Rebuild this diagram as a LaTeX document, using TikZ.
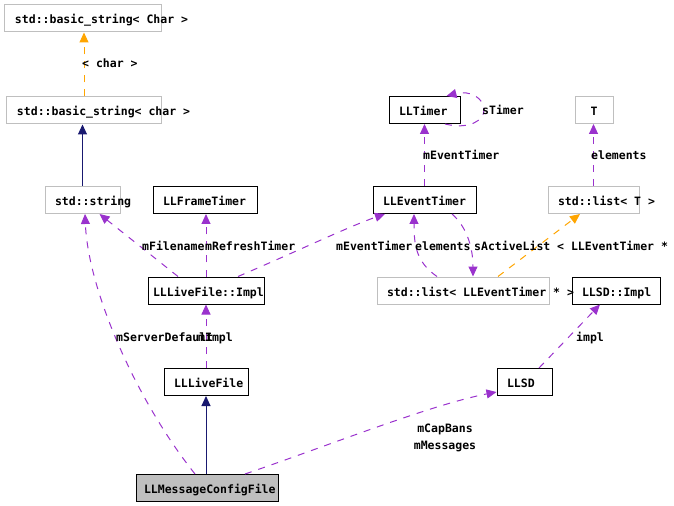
\documentclass[tikz,border=0pt]{standalone}
\usepackage{fontspec}
\usetikzlibrary{arrows.meta}
\newfontfamily\diafont{DejaVu Sans Mono}
\definecolor{EdgeUse}{HTML}{9A32CD}
\definecolor{EdgeTmpl}{HTML}{FFA500}
\definecolor{EdgeBase}{HTML}{191970}
\definecolor{BoxGrey}{HTML}{BFBFBF}

\begin{document}
\begin{tikzpicture}[x=1bp,y=-1bp,
  every node/.style={font={\diafont\bfseries\fontsize{11.5bp}{16.5bp}\selectfont}},
  box/.style={draw=black,line width=1bp,rectangle,minimum height=27bp,inner xsep=10bp,inner ysep=0pt,align=flush left,text height=11bp,text depth=0bp},
  ext/.style={box,draw=BoxGrey},
  lbl/.style={anchor=west,inner sep=0pt,text height=8bp,text depth=0bp},
  uses/.style={EdgeUse,line width=1bp,dash pattern=on 7bp off 7bp,-{Triangle[length=10bp,width=9bp]}},
  tmpl/.style={EdgeTmpl,line width=1bp,dash pattern=on 7bp off 7bp,-{Triangle[length=10bp,width=9bp]}},
  inherit/.style={EdgeBase,line width=1bp,-{Triangle[length=10bp,width=9bp]}}]
\useasboundingbox (0,0) rectangle (674,506);
% classes
\node[ext,text width=136bp] (bsTmpl) at (83,18.5) {\mbox{std::basic\_string< Char >}};
\node[ext,text width=134bp] (bsChar) at (84,110.5) {\mbox{std::basic\_string< char >}};
\node[ext,text width=55bp] (stdString) at (82.5,200) {\mbox{std::string}};
\node[box,text width=84bp] (frameTimer) at (205,200) {\mbox{LLFrameTimer}};
\node[box,text width=51bp] (llTimer) at (424.5,110) {\mbox{LLTimer}};
\node[ext,text width=18bp,align=center] (tParam) at (594,110) {T};
\node[box,text width=83bp] (eventTimer) at (424.5,200) {\mbox{LLEventTimer}};
\node[ext,text width=71bp] (listT) at (593.5,200) {\mbox{std::list< T >}};
\node[box,text width=106bp,inner xsep=5bp] (liveImpl) at (206,290.5) {\mbox{LLLiveFile::Impl}};
\node[ext,text width=152bp] (listEvent) at (463,290.5) {\mbox{std::list< LLEventTimer * >}};
\node[box,text width=68bp] (sdImpl) at (616,290.5) {\mbox{LLSD::Impl}};
\node[box,text width=64bp] (liveFile) at (206,382) {\mbox{LLLiveFile}};
\node[box,text width=35bp] (llsd) at (524.5,382) {\mbox{LLSD}};
\node[box,fill=BoxGrey,text width=126bp,inner xsep=8bp] (msgConfig) at (207,488) {\mbox{LLMessageConfigFile}};
% template and base classes
\draw[tmpl] (bsChar.north) -- (bsChar.north |- bsTmpl.south);
\node[lbl] (lCharArg) at (82,64) {< char >};
\draw[inherit] (stdString.north) -- (stdString.north |- bsChar.south);
\draw[inherit] (liveFile.south |- msgConfig.north) -- (liveFile.south);
\draw[tmpl] ([xshift=35bp]listEvent.north) -- ([xshift=-13.5bp]listT.south);
\node[lbl] (lListArg) at (557,247) {< LLEventTimer * >};
% members
\draw[uses] ([xshift=-28bp]liveImpl.north) -- ([xshift=17bp]stdString.south);
\node[lbl] (lFilename) at (142,247) {mFilename};
\draw[uses] (liveImpl.north) -- (liveImpl.north |- frameTimer.south);
\node[lbl] (lRefresh) at (205,247) {mRefreshTimer};
\draw[uses] ([xshift=32bp]liveImpl.north) .. controls (300,250) and (350,226) .. ([xshift=-39.5bp]eventTimer.south);
\node[lbl] (lEvtImpl) at (336,247) {mEventTimer};
\draw[uses] (eventTimer.north) -- (llTimer.south);
\node[lbl] (lEvtTimer) at (423,156) {mEventTimer};
\coordinate (loopTurn) at (484,110);
\draw[uses] ([xshift=20.5bp]llTimer.south) .. controls (470,130) and (484,120) .. (loopTurn)
  .. controls (484,98) and (470,90) .. ([xshift=22bp]llTimer.north);
\node[lbl] (lSTimer) at (482,111) {sTimer};
\draw[uses] (listT.north) -- (listT.north |- tParam.south);
\node[lbl] (lElemT) at (591,156) {elements};
\draw[uses] ([xshift=-26bp]listEvent.north) .. controls (416,262) and (414,245) .. ([xshift=-10.5bp]eventTimer.south);
\node[lbl] (lElemList) at (415,247) {elements};
\draw[uses] ([xshift=27.5bp]eventTimer.south) .. controls (468,228) and (473,250) .. ([xshift=10bp]listEvent.north);
\node[lbl] (lActive) at (474,247) {sActiveList};
\draw[uses] ([xshift=14.5bp]llsd.north) -- ([xshift=-16bp]sdImpl.south);
\node[lbl] (lImplSD) at (576,337) {impl};
\draw[uses] (liveFile.north) -- (liveImpl.south);
\node[lbl] (lImplLive) at (198,337) {mImpl};
\draw[uses] ([xshift=-12bp]msgConfig.north) .. controls (136,400) and (88,290) .. ([xshift=2.5bp]stdString.south);
\node[lbl] (lServer) at (116,337) {mServerDefault};
\draw[uses] ([xshift=38bp]msgConfig.north) .. controls (330,445) and (430,405) .. ([yshift=-10bp]llsd.west);
\node[anchor=north,inner sep=0pt,align=center] (lCapMsg) at (445,424) {mCapBans\\mMessages};
\end{tikzpicture}
\end{document}
